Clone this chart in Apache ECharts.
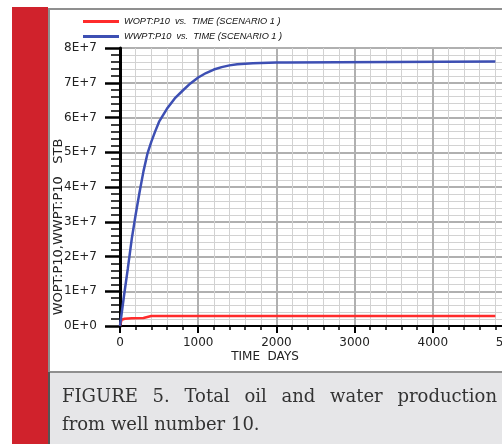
<!DOCTYPE html>
<html>
<head>
<meta charset="utf-8">
<script src="https://cdn.jsdelivr.net/npm/echarts@6/dist/echarts.min.js"></script>
<style>html,body{margin:0;padding:0;background:#fff;}#c{width:502px;height:444px;}</style>
</head>
<body>
<div id="c"></div>
<script>
// ---- data ----
const seriesNames = ['WOPT:P10  vs.  TIME (SCENARIO 1 )', 'WWPT:P10  vs.  TIME (SCENARIO 1 )'];
const woptDays = [0, 20, 60, 150, 300, 320, 400, 4800];
const woptValues = [0, 0.18e7, 0.21e7, 0.22e7, 0.23e7, 0.28e7, 0.29e7, 0.29e7];
const wwptDays = [0, 50, 100, 150, 200, 250, 300, 350, 400, 450, 500, 600, 700, 800, 900, 1000, 1100, 1200, 1300, 1400, 1500, 1600, 1700, 1800, 2000, 2130, 2140, 4800];
const wwptValues = [0, 0.85e7, 1.65e7, 2.5e7, 3.2e7, 3.85e7, 4.45e7, 4.95e7, 5.3e7, 5.6e7, 5.88e7, 6.25e7, 6.55e7, 6.77e7, 6.98e7, 7.15e7, 7.28e7, 7.38e7, 7.45e7, 7.5e7, 7.53e7, 7.55e7, 7.56e7, 7.57e7, 7.58e7, 7.58e7, 7.61e7, 7.61e7];
const xTicks = [0, 1000, 2000, 3000, 4000, 5000];
const yTickLabels = ['0E+0', '1E+7', '2E+7', '3E+7', '4E+7', '5E+7', '6E+7', '7E+7', '8E+7'];
const xAxisTitle = 'TIME  DAYS';
const yAxisTitle = 'WOPT:P10,WWPT:P10   STB';
const captionLine1 = 'FIGURE 5. Total oil and water production';
const captionLine2 = 'from well number 10.';

// ---- caption justification ----
const capFont = '18px "DejaVu Serif"';
const mctx = document.createElement('canvas').getContext('2d');
mctx.font = capFont;
const words = captionLine1.split(' ');
const capLeft = 62, capRight = 497;
const widths = words.map(w => mctx.measureText(w).width);
const totalW = widths.reduce((a, b) => a + b, 0);
const gap = (capRight - capLeft - totalW) / (words.length - 1);
const capEls = [];
let cx = capLeft;
words.forEach((w, i) => {
  capEls.push({type: 'text', x: cx, y: 397, z: 100, style: {text: w, font: capFont, fill: '#333', textVerticalAlign: 'middle'}});
  cx += widths[i] + gap;
});
capEls.push({type: 'text', x: capLeft, y: 425, z: 100, style: {text: captionLine2, font: capFont, fill: '#333', textVerticalAlign: 'middle'}});

const chart = echarts.init(document.getElementById('c'), null, {renderer: 'canvas'});
const sansFont = 'DejaVu Sans';
chart.setOption({
  animation: false,
  backgroundColor: '#fff',
  graphic: [
    {type: 'rect', z: -10, shape: {x: 12, y: 7, width: 36, height: 437}, style: {fill: '#d0222c'}},
    {type: 'rect', z: -10, shape: {x: 49, y: 9, width: 460, height: 363}, style: {fill: 'none', stroke: '#8f8f8f', lineWidth: 2}},
    {type: 'rect', z: -10, shape: {x: 49, y: 373, width: 460, height: 80}, style: {fill: '#e6e6e8'}},
    {type: 'line', z: -9, shape: {x1: 49, y1: 372, x2: 49, y2: 444}, style: {stroke: '#555', lineWidth: 2}},
    {type: 'text', z: 100, x: 265, y: 357, style: {text: xAxisTitle, font: '12px "' + sansFont + '"', fill: '#222', textAlign: 'center', textVerticalAlign: 'middle'}},
    {type: 'text', z: 100, x: 59, y: 227, rotation: Math.PI / 2, style: {text: yAxisTitle, font: '13px "' + sansFont + '"', fill: '#222', textAlign: 'center', textVerticalAlign: 'middle'}}
  ].concat(capEls),
  legend: {
    orient: 'vertical', left: 78, top: 12, itemWidth: 36, itemHeight: 3, itemGap: 6,
    icon: 'rect',
    textStyle: {fontStyle: 'italic', fontSize: 9.2, fontFamily: 'Liberation Sans', color: '#111'},
    data: seriesNames
  },
  grid: {left: 120, top: 48, bottom: 118, right: -9, outerBoundsMode: 'none', containLabel: false},
  xAxis: {
    type: 'value', min: xTicks[0], max: xTicks[xTicks.length - 1], interval: 1000,
    axisLine: {show: true, lineStyle: {color: '#000', width: 2}},
    axisTick: {show: true, length: 7, lineStyle: {color: '#000', width: 2}},
    minorTick: {show: true, splitNumber: 5, length: 4, lineStyle: {color: '#000', width: 1.5}},
    splitLine: {show: true, lineStyle: {color: '#b0b0b0', width: 2}},
    minorSplitLine: {show: true, lineStyle: {color: '#d2d2d2', width: 1}},
    axisLabel: {fontSize: 12, fontFamily: sansFont, color: '#222', margin: 11, formatter: v => String(v)}
  },
  yAxis: {
    type: 'value', min: 0, max: 8e7, interval: 1e7,
    axisLine: {show: true, lineStyle: {color: '#000', width: 3}},
    axisTick: {show: true, length: 15, lineStyle: {color: '#000', width: 2.5}},
    minorTick: {show: true, splitNumber: 5, length: 9, lineStyle: {color: '#000', width: 1.5}},
    splitLine: {show: true, lineStyle: {color: '#b0b0b0', width: 2}},
    minorSplitLine: {show: true, lineStyle: {color: '#d2d2d2', width: 1}},
    axisLabel: {fontSize: 12, fontFamily: sansFont, color: '#222', margin: 23,
      formatter: v => yTickLabels[Math.round(v / 1e7)]}
  },
  series: [
    {name: seriesNames[0], type: 'line', showSymbol: false, symbol: 'none',
     lineStyle: {color: '#ff2b2b', width: 2.5}, itemStyle: {color: '#ff2b2b'},
     data: woptDays.map((d, i) => [d, woptValues[i]])},
    {name: seriesNames[1], type: 'line', showSymbol: false, symbol: 'none',
     lineStyle: {color: '#3d4fb3', width: 2.5}, itemStyle: {color: '#3d4fb3'},
     data: wwptDays.map((d, i) => [d, wwptValues[i]])}
  ]
});
</script>
</body>
</html>
